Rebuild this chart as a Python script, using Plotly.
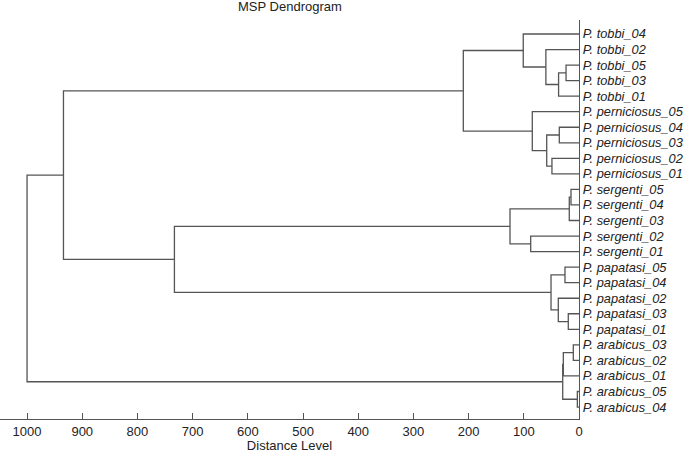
import plotly.graph_objects as go

# Leaf labels in display order (top to bottom)
leaf_labels = [
    "P. tobbi_04", "P. tobbi_02", "P. tobbi_05", "P. tobbi_03", "P. tobbi_01",
    "P. perniciosus_05", "P. perniciosus_04", "P. perniciosus_03", "P. perniciosus_02", "P. perniciosus_01",
    "P. sergenti_05", "P. sergenti_04", "P. sergenti_03", "P. sergenti_02", "P. sergenti_01",
    "P. papatasi_05", "P. papatasi_04", "P. papatasi_02", "P. papatasi_03", "P. papatasi_01",
    "P. arabicus_03", "P. arabicus_02", "P. arabicus_01", "P. arabicus_05", "P. arabicus_04",
]

# Merges: node ids 0..24 are leaves, new nodes numbered from 25 upward
merge_a = [2, 25, 1, 0, 6, 8, 29, 5, 28, 10, 34, 13, 35, 15, 18, 17, 38, 37, 33, 20, 44, 23, 45, 43]
merge_b = [3, 4, 26, 27, 7, 9, 30, 31, 32, 11, 12, 14, 36, 16, 19, 39, 40, 41, 42, 21, 22, 24, 46, 47]
merge_dist = [23.5, 37, 60, 101, 35.7, 49, 58.5, 84.6, 209.6, 14.5, 17.6, 87.5, 125,
              25.4, 19.4, 37.5, 50.7, 733, 934, 10.3, 28.4, 3, 29.5, 1000]

x_ticks = [0, 100, 200, 300, 400, 500, 600, 700, 800, 900, 1000]

n = len(leaf_labels)
ypos = {i: float(i) for i in range(n)}
height = {i: 0.0 for i in range(n)}
xs, ys = [], []
for k, (a, b, d) in enumerate(zip(merge_a, merge_b, merge_dist)):
    node = n + k
    xs += [height[a], d, d, height[b], None]
    ys += [ypos[a], ypos[a], ypos[b], ypos[b], None]
    ypos[node] = (ypos[a] + ypos[b]) / 2
    height[node] = d

LINE = "#555555"
TEXT = "#222222"
FONT = "Liberation Sans, Arial, sans-serif"

fig = go.Figure()
fig.add_trace(go.Scatter(x=xs, y=ys, mode="lines",
                         line=dict(color=LINE, width=1.3),
                         hoverinfo="skip", showlegend=False))

fig.update_layout(
    width=685, height=453,
    margin=dict(l=0, r=106, t=20, b=34),
    paper_bgcolor="white", plot_bgcolor="white",
    font=dict(family=FONT, color=TEXT, size=13),
    xaxis=dict(range=[1049, 0], tickvals=x_ticks, ticktext=[str(v) for v in x_ticks],
               showline=True, linecolor=LINE, linewidth=1.3,
               ticks="inside", ticklen=6, tickcolor=LINE, tickwidth=1.2,
               showgrid=False, zeroline=False, automargin=False,
               tickfont=dict(size=13, color=TEXT),
               title=dict(text="Distance Level", font=dict(size=13, color=TEXT), standoff=0)),
    yaxis=dict(range=[24.77, -0.9], side="right",
               tickvals=list(range(n)), ticktext=leaf_labels,
               showline=True, linecolor=LINE, linewidth=1.3,
               ticks="", showgrid=False, zeroline=False, automargin=False,
               tickfont=dict(size=12.8, color=TEXT, style="italic"),
               ticklabelstandoff=0),
    annotations=[dict(text="MSP Dendrogram", x=0.5, y=1.0326, xref="paper", yref="paper",
                      xanchor="center", yanchor="middle", showarrow=False,
                      font=dict(size=13, color=TEXT))],
)

fig.write_html("out.html", config={"displayModeBar": False},
               post_script="document.body.style.margin='0';")
